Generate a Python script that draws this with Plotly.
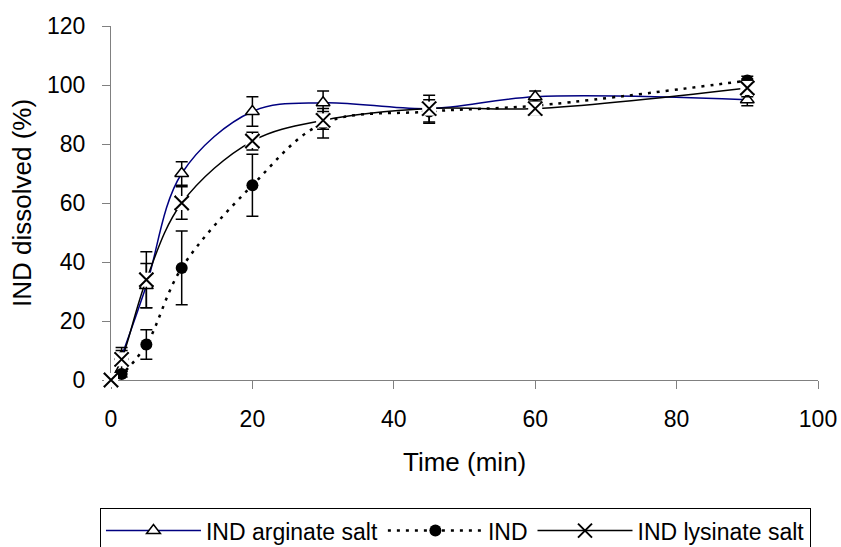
import plotly.graph_objects as go

# Sampling times (min)
time_arg = [1.5, 5, 10, 20, 30, 45, 60, 90]
time_ind = [0, 1.5, 5, 10, 20, 30, 45, 60, 90]
time_lys = [0, 1.5, 5, 10, 20, 30, 45, 60, 90]

# Percentage dissolved and standard deviations
arginate = [8, 32, 70, 91, 94, 92, 96, 95]
arginate_sd = [2, 7.5, 4, 5, 4, 2, 2, 2]

ind = [0, 2, 12, 38, 66, 87, 91, 93, 101.5]
ind_sd = [0, 1, 5, 12.5, 10.5, 5, 4, 1.5, 1.5]

lysinate = [0, 7, 34, 60, 81, 88, 92, 92, 99]
lysinate_sd = [0, 4, 9.5, 5.5, 3, 3, 4.5, 2, 3]

x_ticks = [0, 20, 40, 60, 80, 100]
y_ticks = [0, 20, 40, 60, 80, 100, 120]

FONT = "Liberation Sans, Arial, sans-serif"
ERR = dict(type="data", color="black", thickness=1.5, width=6)

fig = go.Figure()

fig.add_trace(go.Scatter(
    x=time_arg, y=arginate, name="IND arginate salt",
    mode="lines+markers", line=dict(color="#000080", width=1.5, shape="spline", smoothing=1),
    marker=dict(symbol="triangle-up", size=12, color="white", line=dict(color="black", width=1.5)),
    error_y=dict(array=arginate_sd, **ERR),
    cliponaxis=False,
))

fig.add_trace(go.Scatter(
    x=time_ind, y=ind, name="IND",
    mode="lines+markers", line=dict(color="black", width=2.5, dash="3px,6px", shape="spline", smoothing=1),
    marker=dict(symbol="circle", size=12, color="black"),
    error_y=dict(array=ind_sd, **ERR),
    cliponaxis=False,
))

fig.add_trace(go.Scatter(
    x=time_lys, y=lysinate, name="IND lysinate salt",
    mode="lines+markers", line=dict(color="black", width=1.5, shape="spline", smoothing=1),
    marker=dict(symbol="x-thin-open", size=14, color="black", line=dict(color="black", width=2)),
    error_y=dict(array=lysinate_sd, **ERR),
    cliponaxis=False,
))

# white backing behind each cross marker, then the crosses on top
fig.add_trace(go.Scatter(
    x=time_lys, y=lysinate, mode="markers", showlegend=False, hoverinfo="skip",
    marker=dict(symbol="square", size=14, color="white", line=dict(width=0)),
    cliponaxis=False,
))
fig.add_trace(go.Scatter(
    x=time_lys, y=lysinate, mode="markers", showlegend=False, hoverinfo="skip",
    marker=dict(symbol="x-thin-open", size=14, color="black", line=dict(color="black", width=2)),
    cliponaxis=False,
))

fig.update_layout(
    width=841, height=547,
    margin=dict(l=111, r=23, t=26, b=167, autoexpand=False),
    paper_bgcolor="white", plot_bgcolor="white",
    font=dict(family=FONT, size=23, color="black"),
    showlegend=True,
    legend=dict(
        orientation="h", x=-0.0156, xanchor="left", y=-0.362, yanchor="top",
        bordercolor="black", borderwidth=1, bgcolor="white",
        font=dict(family=FONT, size=23, color="black"),
        itemwidth=95, tracegroupgap=0,
    ),
    xaxis=dict(
        range=[0, 100], tickvals=x_ticks, showgrid=False, zeroline=False,
        showline=True, linecolor="#808080", linewidth=1, layer="below traces",
        ticks="outside", ticklen=8, tickcolor="#808080", ticklabelstandoff=10,
        tickfont=dict(size=23),
    ),
    yaxis=dict(
        range=[0, 120], tickvals=y_ticks, showgrid=False, zeroline=False,
        showline=True, linecolor="#808080", linewidth=1, layer="below traces",
        ticks="outside", ticklen=8, tickcolor="#808080", ticklabelstandoff=12,
        tickfont=dict(size=23),
    ),
    annotations=[
        dict(text="Time (min)", xref="paper", yref="paper", x=0.5, y=-0.2316,
             xanchor="center", yanchor="middle", showarrow=False, font=dict(size=26)),
        dict(text="IND dissolved (%)", xref="paper", yref="paper", x=-0.1259, y=0.5,
             xanchor="center", yanchor="middle", textangle=-90, showarrow=False,
             font=dict(size=26)),
    ],
)

fig.write_html("out.html")
